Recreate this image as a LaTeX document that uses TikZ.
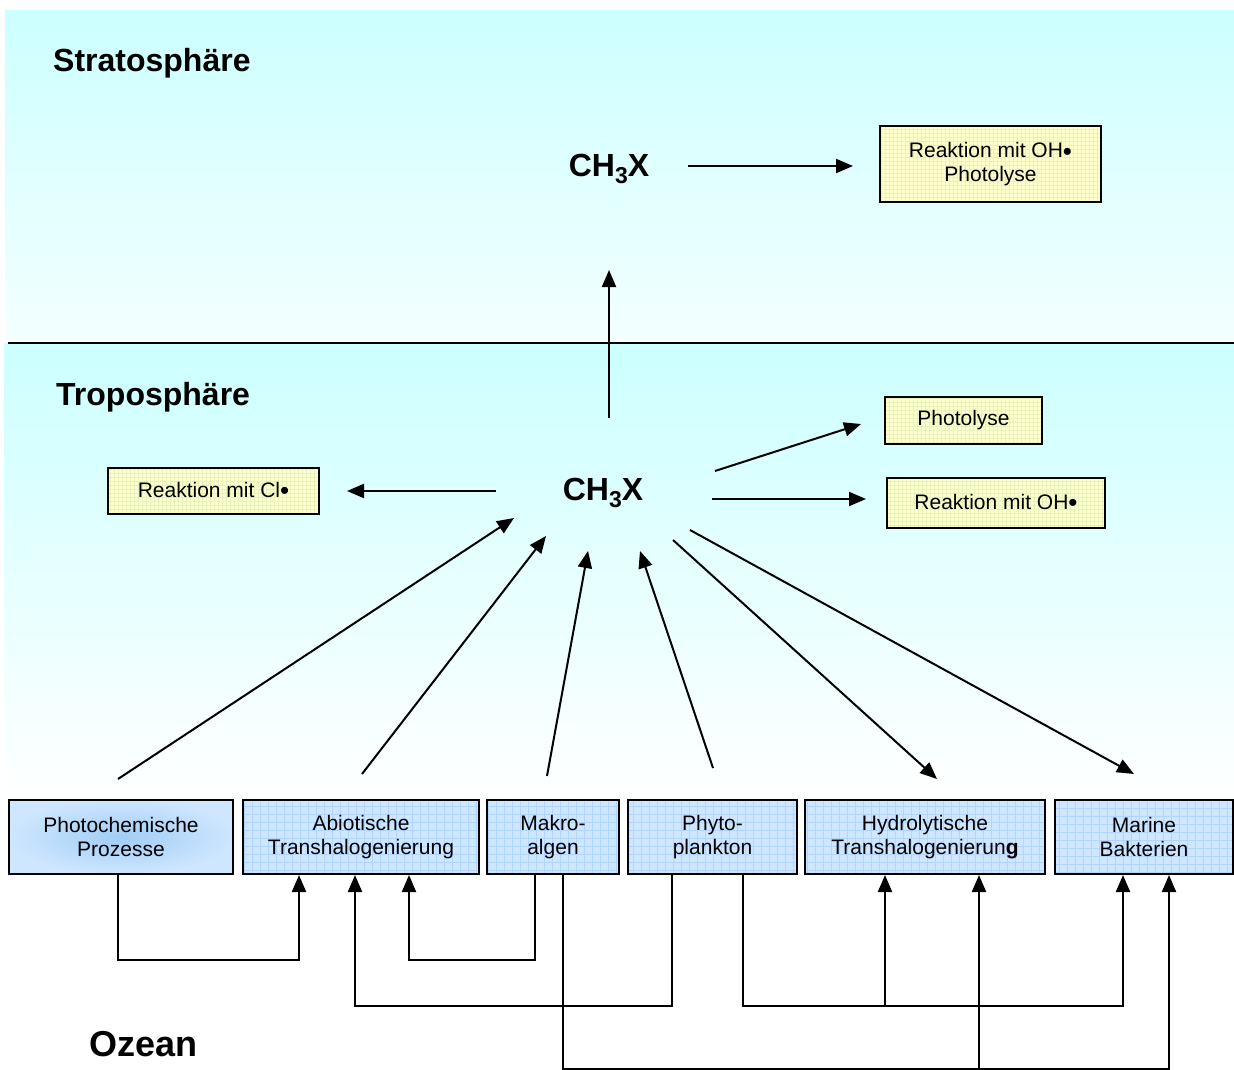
\documentclass[tikz,border=0pt]{standalone}
\usepackage{fontspec}
\setmainfont{Liberation Sans}
\usetikzlibrary{arrows.meta,calc}
\definecolor{skyA}{RGB}{204,255,255}
\definecolor{skyB}{RGB}{244,255,255}
\definecolor{boxblue}{RGB}{206,230,255}
\definecolor{gridblue}{RGB}{176,214,255}
\definecolor{boxyel}{RGB}{255,255,204}
\definecolor{gridyel}{RGB}{232,242,188}
\definecolor{blobblue}{RGB}{160,205,245}
\newcommand\bxfont{\fontsize{21}{24}\selectfont}
\newcommand\ttlfont{\fontsize{32}{36}\selectfont\bfseries}
\newcommand\chfont{\fontsize{32}{36}\selectfont\bfseries}
\newcommand\chx{CH\raisebox{-0.22em}{\fontsize{23}{23}\selectfont 3}X}
\newcommand\bul{{\fontsize{26}{24}\selectfont\raisebox{-0.1em}{•}}}
\begin{document}
\begin{tikzpicture}[x=1pt,y=-1pt,
  bluebox/.style={draw, line width=2pt, fill=boxblue, minimum height=74pt, inner sep=0pt, align=center, font=\bxfont,
    path picture={\draw[gridblue, line width=0.6pt, step=8pt] (path picture bounding box.south west) grid (path picture bounding box.north east);}},
  yelbox/.style={draw, line width=2pt, fill=boxyel, inner sep=0pt, align=center, font=\bxfont,
    path picture={\draw[gridyel, line width=0.5pt, step=4pt] (path picture bounding box.south west) grid (path picture bounding box.north east);}},
  arr/.style={line width=2pt, -{Triangle[length=17pt,width=14pt]}},
  ln/.style={line width=2pt},
  ttl/.style={font=\ttlfont, anchor=west, inner sep=0pt},
  ch/.style={font=\chfont, inner sep=0pt}]
\useasboundingbox (0,0) rectangle (1234,1070);
\fill[white] (0,0) rectangle (1234,1070);
% backgrounds
\shade[top color=skyA, bottom color=skyB] (5,11) rectangle (1234,343);
\shade[top color=skyA, bottom color=white] (4,343) rectangle (1234,800);
\draw[ln] (8,343) -- (1234,343);
% titles
\node[ttl] (strat) at (53,63) {Stratosphäre};
\node[ttl] (trop) at (56,397) {Troposphäre};
\node[font=\fontsize{36}{40}\selectfont\bfseries, anchor=west, inner sep=0pt] (ozean) at (89,1044) {Ozean};
% CH3X
\node[ch] (chs) at (609,169) {\chx};
\node[ch] (cht) at (603,493) {\chx};
% yellow boxes
\node[yelbox, minimum width=221pt, minimum height=76pt] (sbox) at (990.5,164) {Reaktion mit OH\bul\\Photolyse};
\node[yelbox, minimum width=157pt, minimum height=47pt] (phl) at (963.5,420.5) {Photolyse};
\node[yelbox, minimum width=218pt, minimum height=50pt] (oh) at (996,503) {Reaktion mit OH\bul};
\node[yelbox, minimum width=211pt, minimum height=46pt] (cl) at (213.5,491) {Reaktion mit Cl\bul};
% blue boxes
\node[bluebox, minimum width=224pt, shading=radial, inner color=blobblue, outer color=boxblue, path picture={}] (photo) at (121,837) {Photochemische\\Prozesse};
\node[bluebox, minimum width=236pt] (abio) at (361,837) {Abiotische\\Transhalogenierung};
\node[bluebox, minimum width=132pt] (makro) at (553,837) {Makro-\\algen};
\node[bluebox, minimum width=169pt] (phyto) at (712.5,837) {Phyto-\\plankton};
\node[bluebox, minimum width=240pt] (hydro) at (925,837) {Hydrolytische\\Transhalogenierun\textbf{g}};
\node[bluebox, minimum width=178pt] (marine) at (1144,837) {Marine\\Bakterien};
% coordinates for free arrow ends
\coordinate (a1) at (688,166); \coordinate (a2) at (853,166);
\coordinate (u1) at (609,418); \coordinate (u2) at (609,270);
\coordinate (l1) at (496,491); \coordinate (l2) at (347,491);
\coordinate (p1) at (715,471); \coordinate (p2) at (861,424);
\coordinate (o1) at (712,499); \coordinate (o2) at (866,499);
\coordinate (s1) at (118,779); \coordinate (s1e) at (514,518);
\coordinate (s2) at (362,774); \coordinate (s2e) at (546,536);
\coordinate (s3) at (547,776); \coordinate (s3e) at (588,551);
\coordinate (s4) at (713,768); \coordinate (s4e) at (640,551);
\coordinate (d1) at (673,540); \coordinate (d1e) at (937,779);
\coordinate (d2) at (690,530); \coordinate (d2e) at (1134,774);
% upper arrows
\draw[arr] (a1) -- (a2);
\draw[arr] (u1) -- (u2);
\draw[arr] (l1) -- (l2);
\draw[arr] (p1) -- (p2);
\draw[arr] (o1) -- (o2);
\draw[arr] (s1) -- (s1e);
\draw[arr] (s2) -- (s2e);
\draw[arr] (s3) -- (s3e);
\draw[arr] (s4) -- (s4e);
\draw[arr] (d1) -- (d1e);
\draw[arr] (d2) -- (d2e);
% lower connectors
\draw[arr] ([xshift=-3pt]photo.south) |- (299,960) -- (abio.south -| 299,0);
\draw[arr] ([xshift=-18pt]makro.south) |- (409,960) -- (abio.south -| 409,0);
\draw[arr] ([xshift=-40.5pt]phyto.south) |- (355,1006) -- (abio.south -| 355,0);
\draw[arr] ([xshift=30.5pt]phyto.south) |- (1123,1006) -- (marine.south -| 1123,0);
\draw[arr] (885,1006) -- (hydro.south -| 885,0);
\draw[arr] ([xshift=10pt]makro.south) |- (1169,1069) -- (marine.south -| 1169,0);
\draw[arr] (979,1069) -- (hydro.south -| 979,0);
\end{tikzpicture}
\end{document}
